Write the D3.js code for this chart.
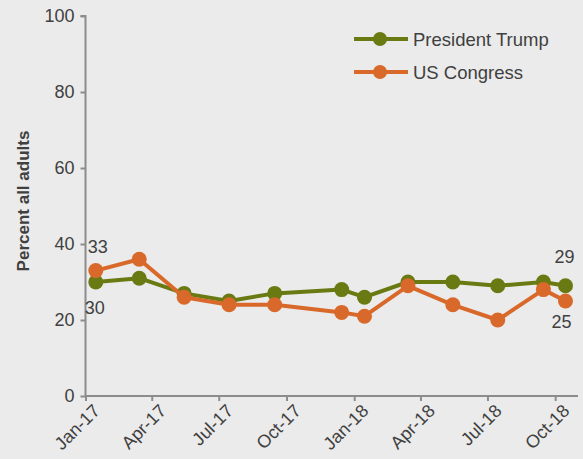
<!DOCTYPE html>
<html>
<head>
<meta charset="utf-8">
<script src="https://cdn.jsdelivr.net/npm/d3@7"></script>
<style>
  body { margin: 0; background: #ebebeb; }
  svg { display: block; font-family: "Liberation Sans", Arial, sans-serif; }
</style>
</head>
<body>
<div id="chart"></div>
<script>
// survey dates (approx. mid-month of each wave)
const dates = ["2017-01-15", "2017-03-15", "2017-05-15", "2017-07-15", "2017-09-15", "2017-12-15",
  "2018-01-15", "2018-03-15", "2018-05-15", "2018-07-15", "2018-09-15", "2018-10-15"];
const trump = [30, 31, 27, 25, 27, 28, 26, 30, 30, 29, 30, 29];
const congress = [33, 36, 26, 24, 24, 22, 21, 29, 24, 20, 28, 25];
const seriesNames = ["President Trump", "US Congress"];
const colors = ["#6a7a12", "#d9692a"];
const yTicks = [0, 20, 40, 60, 80, 100];

const W = 583, H = 459;
const parse = d3.timeParse("%Y-%m-%d");

const svg = d3.select("#chart").append("svg")
  .attr("width", W).attr("height", H);

svg.append("rect").attr("width", W).attr("height", H).attr("fill", "#ebebeb");

const x = d3.scaleTime()
  .domain([new Date(2017, 0, 1), new Date(2018, 10, 1)])
  .range([85.5, 578]);

const y = d3.scaleLinear().domain([0, 100]).range([396, 16]);

// y axis
const yAxis = d3.axisLeft(y).tickValues(yTicks).tickSize(5).tickPadding(6);
const gy = svg.append("g").attr("transform", "translate(85.5,0)").call(yAxis);
gy.select(".domain").attr("stroke", "#8c8c8c").attr("stroke-width", 2).attr("d", "M-5,16H0V396");
gy.selectAll(".tick line").attr("stroke", "#8c8c8c").attr("stroke-width", 2);
gy.selectAll(".tick text").attr("fill", "#404040").attr("font-size", 18)
  .attr("font-family", "Liberation Sans, Arial, sans-serif");

// x axis
const xTickDates = d3.timeMonth.range(new Date(2017, 0, 1), new Date(2018, 10, 1), 3);
const xAxis = d3.axisBottom(x).tickValues(xTickDates).tickSize(5)
  .tickFormat(d3.timeFormat("%b-%y"));
const gx = svg.append("g").attr("transform", "translate(0,396)").call(xAxis);
gx.select(".domain").attr("stroke", "#8c8c8c").attr("stroke-width", 2).attr("d", "M85.5,0H578");
gx.selectAll(".tick line").attr("stroke", "#8c8c8c").attr("stroke-width", 2);
gx.selectAll(".tick text")
  .attr("fill", "#404040").attr("font-size", 18)
  .attr("font-family", "Liberation Sans, Arial, sans-serif")
  .attr("text-anchor", "end")
  .attr("x", 0).attr("y", 0).attr("dy", 0)
  .attr("transform", "translate(15,16) rotate(-45)");

// y axis title
svg.append("text")
  .attr("transform", "translate(29,201) rotate(-90)")
  .attr("text-anchor", "middle")
  .attr("font-size", 17).attr("font-weight", "bold").attr("fill", "#404040")
  .text("Percent all adults");

// lines
const seriesData = [trump, congress].map(vals => vals.map((v, i) => ({ date: parse(dates[i]), value: v })));
const line = d3.line().x(d => x(d.date)).y(d => y(d.value));

seriesData.forEach((data, k) => {
  svg.append("path").datum(data)
    .attr("fill", "none").attr("stroke", colors[k]).attr("stroke-width", 4)
    .attr("stroke-linejoin", "round")
    .attr("d", line);
  svg.append("g").selectAll("circle").data(data).enter().append("circle")
    .attr("cx", d => x(d.date)).attr("cy", d => y(d.value))
    .attr("r", 7.5).attr("fill", colors[k]);
});

// data labels (first and last points)
const labelStyle = s => s.attr("font-size", 18).attr("fill", "#404040").attr("text-anchor", "middle");
const first = 0, last = dates.length - 1;
svg.append("text").call(labelStyle)
  .attr("x", x(parse(dates[first])) + 2).attr("y", y(congress[first]) - 18)
  .text(congress[first]);
svg.append("text").call(labelStyle)
  .attr("x", x(parse(dates[first])) - 1).attr("y", y(trump[first]) + 32)
  .text(trump[first]);
svg.append("text").call(labelStyle)
  .attr("x", x(parse(dates[last])) - 1).attr("y", y(trump[last]) - 23)
  .text(trump[last]);
svg.append("text").call(labelStyle)
  .attr("x", x(parse(dates[last])) - 4).attr("y", y(congress[last]) + 27)
  .text(congress[last]);

// legend
const legend = svg.append("g");
seriesNames.forEach((name, k) => {
  const ly = 39 + k * 33;
  legend.append("line").attr("x1", 354).attr("x2", 408).attr("y1", ly).attr("y2", ly)
    .attr("stroke", colors[k]).attr("stroke-width", 4);
  legend.append("circle").attr("cx", 380).attr("cy", ly).attr("r", 7).attr("fill", colors[k]);
  legend.append("text").attr("x", 413).attr("y", ly + 6.5)
    .attr("font-size", 18.5).attr("fill", "#404040").text(name);
});
</script>
</body>
</html>
